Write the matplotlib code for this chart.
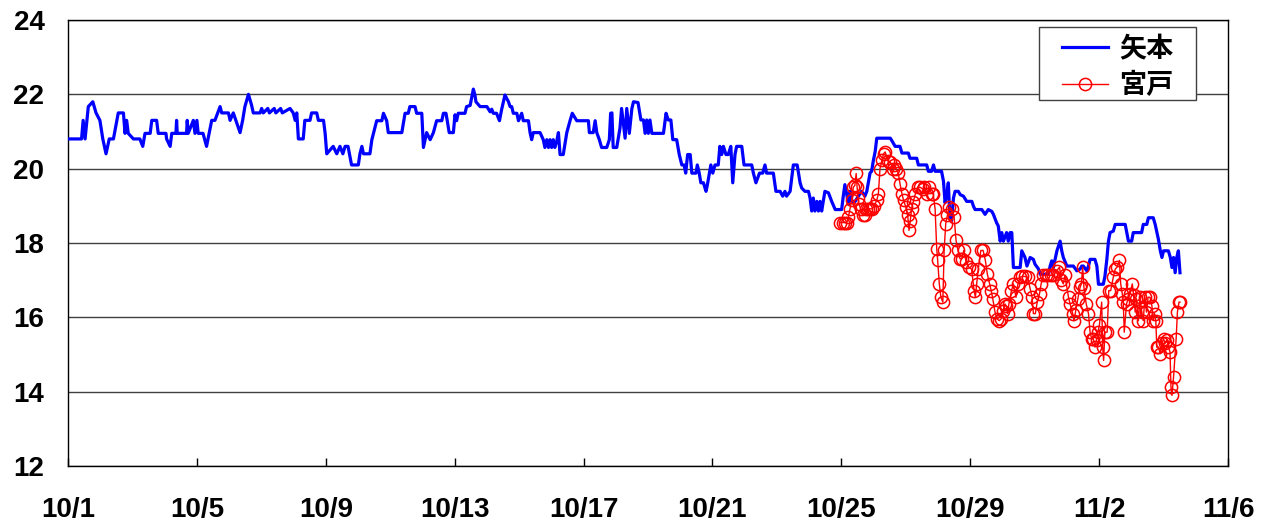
import matplotlib
matplotlib.use("Agg")
import matplotlib.pyplot as plt
from matplotlib.patches import Rectangle

# days counted from 10/1 00:00
yamoto_t = [0, 0.42, 0.47, 0.53, 0.63, 0.77, 0.87, 0.99, 1.08, 1.18, 1.28, 1.41, 1.56, 1.72, 1.77, 1.82, 1.87,
            2.03, 2.23, 2.32, 2.39, 2.55, 2.6, 2.75, 2.8, 3.04, 3.06, 3.17, 3.22, 3.35, 3.37, 3.39, 3.68, 3.7,
            3.73, 3.89, 3.94, 4.0, 4.04, 4.19, 4.3, 4.46, 4.56, 4.72, 4.77, 4.98, 5.03, 5.13, 5.34, 5.42, 5.49,
            5.6, 5.7, 5.75, 5.96, 6.01, 6.06, 6.2, 6.25, 6.4, 6.45, 6.6, 6.65, 6.89, 6.99, 7.05, 7.1, 7.15, 7.3,
            7.35, 7.51, 7.56, 7.72, 7.77, 7.93, 7.98, 8.03, 8.23, 8.34, 8.44, 8.53, 8.6, 8.69, 8.8, 9.01, 9.06,
            9.12, 9.17, 9.37, 9.43, 9.48, 9.58, 9.74, 9.79, 9.89, 9.94, 10.36, 10.46, 10.56, 10.61, 10.77, 10.82,
            10.98, 11.03, 11.13, 11.24, 11.34, 11.44, 11.6, 11.65, 11.73, 11.77, 11.83, 11.96, 12.01, 12.06,
            12.11, 12.32, 12.37, 12.48, 12.58, 12.63, 12.66, 12.79, 13.0, 13.1, 13.15, 13.2, 13.3, 13.39, 13.46,
            13.56, 13.67, 13.72, 13.77, 13.82, 13.93, 13.98, 14.08, 14.13, 14.29, 14.34, 14.39, 14.44, 14.65,
            14.75, 14.8, 14.86, 14.91, 14.96, 15.01, 15.06, 15.11, 15.17, 15.22, 15.27, 15.37, 15.48, 15.58,
            15.65, 15.79, 16.15, 16.18, 16.3, 16.36, 16.41, 16.49, 16.56, 16.72, 16.8, 16.84, 16.88, 16.92,
            17.03, 17.13, 17.18, 17.29, 17.34, 17.42, 17.5, 17.55, 17.69, 17.78, 17.86, 17.91, 17.96, 18.01,
            18.06, 18.12, 18.48, 18.56, 18.63, 18.71, 18.77, 18.89, 18.97, 19.05, 19.12, 19.17, 19.23, 19.31,
            19.36, 19.49, 19.53, 19.59, 19.64, 19.72, 19.8, 19.84, 19.95, 20.01, 20.08, 20.18, 20.23, 20.29,
            20.34, 20.42, 20.49, 20.57, 20.63, 20.7, 20.75, 20.91, 20.98, 21.22, 21.27, 21.35, 21.46, 21.56,
            21.63, 21.68, 21.89, 21.97, 22.1, 22.18, 22.25, 22.3, 22.41, 22.51, 22.63, 22.72, 22.77, 22.87,
            22.98, 23.03, 23.08, 23.13, 23.18, 23.24, 23.29, 23.34, 23.39, 23.49, 23.6, 23.7, 23.81, 24.01,
            24.06, 24.11, 24.17, 24.22, 24.27, 24.32, 24.43, 24.53, 24.63, 24.73, 24.79, 24.89, 24.94, 24.99,
            25.05, 25.1, 25.52, 25.57, 25.67, 25.82, 25.88, 26.08, 26.13, 26.34, 26.39, 26.65, 26.7, 26.8,
            26.86, 26.91, 27.11, 27.17, 27.22, 27.27, 27.32, 27.37, 27.42, 27.48, 27.53, 27.63, 27.69, 27.79,
            27.89, 28.05, 28.1, 28.15, 28.36, 28.46, 28.56, 28.67, 28.72, 28.82, 28.87, 28.93, 28.98, 29.03,
            29.13, 29.18, 29.24, 29.29, 29.34, 29.55, 29.6, 29.7, 29.76, 29.86, 29.96, 30.01, 30.12, 30.17,
            30.43, 30.48, 30.53, 30.58, 30.69, 30.79, 30.84, 30.89, 31.0, 31.2, 31.31, 31.41, 31.46, 31.51,
            31.62, 31.67, 31.72, 31.87, 31.93, 31.98, 32.13, 32.18, 32.24, 32.29, 32.34, 32.44, 32.5, 32.81,
            32.86, 32.91, 33.01, 33.06, 33.32, 33.37, 33.48, 33.53, 33.68, 33.74, 33.84, 33.9, 33.95, 34.0,
            34.15, 34.21, 34.26, 34.31, 34.36, 34.41, 34.46, 34.51]
yamoto_v = [20.8, 20.8, 21.3, 20.8, 21.67, 21.8, 21.5, 21.3, 20.8, 20.4, 20.8, 20.8, 21.5, 21.5, 20.95, 21.3, 20.95,
            20.8, 20.8, 20.6, 20.95, 20.95, 21.3, 21.3, 20.95, 20.95, 20.8, 20.6, 20.95, 20.95, 21.3, 20.95, 20.95,
            21.3, 20.95, 21.3, 20.95, 21.3, 20.95, 20.95, 20.6, 21.3, 21.3, 21.67, 21.5, 21.5, 21.3, 21.5, 20.97,
            21.3, 21.67, 22.0, 21.7, 21.5, 21.5, 21.62, 21.5, 21.62, 21.5, 21.62, 21.5, 21.62, 21.5, 21.62, 21.5,
            21.3, 21.5, 20.8, 20.8, 21.3, 21.3, 21.5, 21.5, 21.3, 21.3, 20.95, 20.4, 20.6, 20.4, 20.6, 20.4, 20.6,
            20.6, 20.1, 20.1, 20.4, 20.6, 20.4, 20.4, 20.78, 20.95, 21.29, 21.29, 21.49, 21.29, 20.97, 20.97,
            21.49, 21.49, 21.67, 21.67, 21.49, 21.49, 20.57, 20.97, 20.78, 20.97, 21.29, 21.29, 21.49, 21.49,
            21.29, 20.97, 20.97, 21.45, 21.29, 21.49, 21.49, 21.67, 21.7, 22.14, 21.98, 21.8, 21.67, 21.67,
            21.53, 21.6, 21.49, 21.49, 21.29, 21.6, 21.98, 21.8, 21.67, 21.67, 21.49, 21.49, 21.29, 21.49, 21.29,
            21.29, 20.97, 20.78, 20.97, 20.97, 20.78, 20.57, 20.78, 20.57, 20.78, 20.57, 20.78, 20.57, 20.75,
            20.97, 20.38, 20.38, 20.97, 21.29, 21.49, 21.29, 21.29, 20.97, 20.97, 21.29, 20.97, 20.78, 20.57,
            20.57, 20.78, 21.49, 21.5, 20.57, 20.57, 21.09, 21.62, 20.82, 21.62, 20.95, 21.62, 21.8, 21.78,
            21.31, 21.31, 20.95, 21.31, 20.95, 21.31, 20.95, 20.95, 21.49, 21.31, 21.31, 20.78, 20.78, 20.38,
            20.1, 20.1, 19.88, 20.38, 20.38, 19.88, 19.88, 20.1, 19.88, 19.62, 19.62, 19.39, 19.55, 20.1, 19.88,
            20.1, 20.1, 20.6, 20.38, 20.6, 20.38, 20.38, 20.6, 19.62, 20.38, 20.6, 20.6, 20.1, 20.1, 19.88,
            19.62, 19.88, 19.88, 20.1, 19.88, 19.88, 19.39, 19.39, 19.26, 19.39, 19.26, 19.39, 20.1, 20.1,
            19.62, 19.48, 19.39, 19.39, 19.21, 18.86, 19.21, 18.86, 19.12, 18.86, 19.12, 18.86, 19.39, 19.35,
            19.12, 18.9, 18.9, 19.26, 19.57, 19.3, 19.04, 19.39, 19.12, 19.12, 19.26, 19.39, 19.26, 19.39,
            19.88, 19.93, 20.2, 20.46, 20.82, 20.82, 20.75, 20.6, 20.6, 20.42, 20.42, 20.28, 20.28, 20.1, 20.1,
            19.93, 19.93, 20.1, 19.93, 19.93, 19.66, 19.08, 19.3, 19.62, 18.68, 18.6, 19.21, 19.39, 19.39, 19.3,
            19.26, 19.12, 19.12, 18.99, 18.9, 18.9, 18.77, 18.9, 18.85, 18.77, 18.54, 18.46, 18.05, 18.28, 18.05,
            18.28, 18.05, 18.28, 18.28, 17.34, 17.34, 17.79, 17.61, 17.38, 17.61, 17.56, 17.43, 17.3, 17.16,
            17.16, 17.38, 17.52, 17.34, 17.79, 18.05, 17.79, 17.61, 17.38, 17.38, 17.25, 17.3, 17.38, 17.38,
            17.25, 17.38, 17.56, 17.56, 17.38, 16.89, 16.89, 17.1, 17.56, 18.05, 18.28, 18.32, 18.5, 18.5,
            18.28, 18.05, 18.05, 18.28, 18.28, 18.5, 18.5, 18.68, 18.68, 18.5, 18.1, 17.79, 17.61, 17.79,
            17.79, 17.61, 17.34, 17.61, 17.2, 17.61, 17.79, 17.2]

miyato_t = [23.96, 24.05, 24.12, 24.17, 24.22, 24.27, 24.32, 24.37, 24.42, 24.46, 24.49, 24.52, 24.55, 24.6, 24.66,
            24.72, 24.78, 24.84, 24.9, 24.96, 25.02, 25.1, 25.15, 25.2, 25.26, 25.31, 25.36, 25.45, 25.52, 25.6,
            25.65, 25.7, 25.77, 25.82, 25.88, 25.93, 26.0, 26.06, 26.1, 26.14, 26.18, 26.23, 26.3, 26.38, 26.45,
            26.52, 26.58, 26.65, 26.72, 26.8, 26.85, 26.91, 26.96, 26.99, 27.04, 27.09, 27.15, 27.19, 27.24,
            27.29, 27.35, 27.42, 27.5, 27.56, 27.62, 27.68, 27.74, 27.8, 27.87, 27.96, 28.04, 28.12, 28.16, 28.2,
            28.25, 28.33, 28.4, 28.47, 28.53, 28.6, 28.65, 28.7, 28.77, 28.83, 28.9, 28.96, 29.02, 29.08, 29.12,
            29.16, 29.2, 29.28, 29.34, 29.42, 29.48, 29.55, 29.62, 29.7, 29.78, 29.86, 29.92, 29.96, 30.02, 30.08,
            30.15, 30.2, 30.27, 30.35, 30.42, 30.5, 30.58, 30.69, 30.77, 30.83, 30.89, 30.94, 31.05, 31.1, 31.18,
            31.22, 31.28, 31.34, 31.41, 31.45, 31.49, 31.53, 31.6, 31.67, 31.72, 31.77, 31.82, 31.87, 31.92,
            31.96, 32.01, 32.08, 32.11, 32.14, 32.18, 32.25, 32.3, 32.36, 32.44, 32.5, 32.56, 32.63, 32.67,
            32.72, 32.75, 32.78, 32.85, 32.9, 32.96, 33.03, 33.07, 33.12, 33.16, 33.22, 33.27, 33.32, 33.37,
            33.42, 33.47, 33.52, 33.58, 33.64, 33.68, 33.72, 33.76, 33.79, 33.84, 33.9, 33.95, 34.0, 34.05,
            34.1, 34.15, 34.2, 34.23, 34.26, 34.31, 34.39, 34.43, 34.48, 34.51]
miyato_v = [18.55, 18.55, 18.55, 18.55, 18.7, 18.92, 19.15, 19.5, 19.55, 19.87, 19.5, 19.2, 19.05, 18.92, 18.74,
            18.74, 18.92, 18.92, 18.92, 18.92, 19.0, 19.15, 19.33, 20.0, 20.23, 20.4, 20.45, 20.2, 20.18, 20.0,
            20.1, 20.0, 19.87, 19.6, 19.33, 19.15, 18.97, 18.74, 18.34, 18.6, 18.92, 19.1, 19.33, 19.5, 19.5,
            19.45, 19.5, 19.33, 19.5, 19.33, 19.33, 18.92, 17.85, 17.53, 16.9, 16.54, 16.41, 17.8, 18.52, 18.74,
            18.97, 18.92, 18.7, 18.07, 17.8, 17.58, 17.58, 17.8, 17.5, 17.35, 17.3, 16.72, 16.54, 16.9, 17.3,
            17.8, 17.8, 17.53, 17.17, 16.9, 16.72, 16.5, 16.14, 15.96, 15.91, 15.96, 16.18, 16.36, 16.3, 16.1,
            16.36, 16.72, 16.9, 16.54, 16.9, 17.08, 17.1, 17.1, 17.08, 16.77, 16.54, 16.1, 16.1, 16.41, 16.63,
            16.9, 17.13, 17.13, 17.13, 17.13, 17.13, 17.26, 17.35, 17.0, 16.9, 17.13, 16.54, 16.36, 16.1, 15.91,
            16.2, 16.5, 16.81, 16.9, 17.35, 16.8, 16.36, 16.1, 15.6, 15.42, 15.42, 15.2, 15.4, 15.6, 15.8, 16.41,
            15.2, 14.84, 15.6, 15.6, 16.72, 16.72, 17.08, 17.3, 17.35, 17.53, 16.9, 16.63, 16.41, 15.6, 16.36,
            16.5, 16.63, 16.9, 16.6, 16.14, 16.5, 15.91, 16.54, 16.14, 15.91, 16.54, 16.14, 16.54, 16.54, 16.3,
            15.91, 16.1, 15.9, 15.2, 15.2, 15.02, 15.3, 15.42, 15.3, 15.4, 15.2, 15.07, 14.12, 13.9, 14.39, 15.42,
            16.14, 16.41, 16.41]

tick_days = [0, 4, 8, 12, 16, 20, 24, 28, 32, 36]
tick_labels = ['10/1', '10/5', '10/9', '10/13', '10/17', '10/21', '10/25', '10/29', '11/2', '11/6']
y_ticks = [12, 14, 16, 18, 20, 22, 24]

plt.rcParams['font.family'] = ['Liberation Sans', 'Noto Sans CJK JP', 'DejaVu Sans']

fig = plt.figure(figsize=(12.65, 5.22), dpi=100)
ax = fig.add_axes([68 / 1265, 1 - 466 / 522, (1228 - 68) / 1265, (466 - 20) / 522])

ax.plot(yamoto_t, yamoto_v, color='#0000ff', lw=2.3, label='矢本', zorder=3)
ax.plot(miyato_t, miyato_v, color='#ff0000', lw=1.0, marker='o', ms=8.8, mfc='none', mec='#ff0000',
        mew=1.1, label='宮戸', zorder=4)

ax.set_xlim(0, 36)
ax.set_ylim(12, 24)
ax.set_xticks(tick_days)
ax.set_xticklabels(tick_labels)
ax.set_yticks(y_ticks)
ax.grid(axis='y', color='#404040', lw=1.0)
ax.set_axisbelow(True)
ax.tick_params(axis='x', direction='in', length=6, width=1, pad=22, labelsize=20)
ax.tick_params(axis='y', direction='in', length=0, pad=17, labelsize=20)
for lab in ax.get_xticklabels() + ax.get_yticklabels():
    lab.set_fontweight('bold')
for sp in ax.spines.values():
    sp.set_color('black')
    sp.set_linewidth(1.0)

# legend box drawn separately so the padding matches the original
box = Rectangle((1039 / 1265, 1 - 100 / 522), 157 / 1265, 73 / 522, transform=fig.transFigure,
                facecolor='white', edgecolor='#404040', lw=1.0, zorder=5)
ax.add_patch(box)
box.set_clip_on(False)
leg = ax.legend(loc='center', bbox_to_anchor=(1117.5 / 1265, 1 - 67 / 522), bbox_transform=fig.transFigure,
                frameon=False, handlelength=1.7, borderpad=0, borderaxespad=0,
                prop={'family': ['Noto Sans CJK JP'], 'weight': 'bold', 'size': 19.5},
                labelspacing=0.3, handletextpad=0.4)
leg.set_zorder(6)

fig.savefig('out.png', dpi=100)
